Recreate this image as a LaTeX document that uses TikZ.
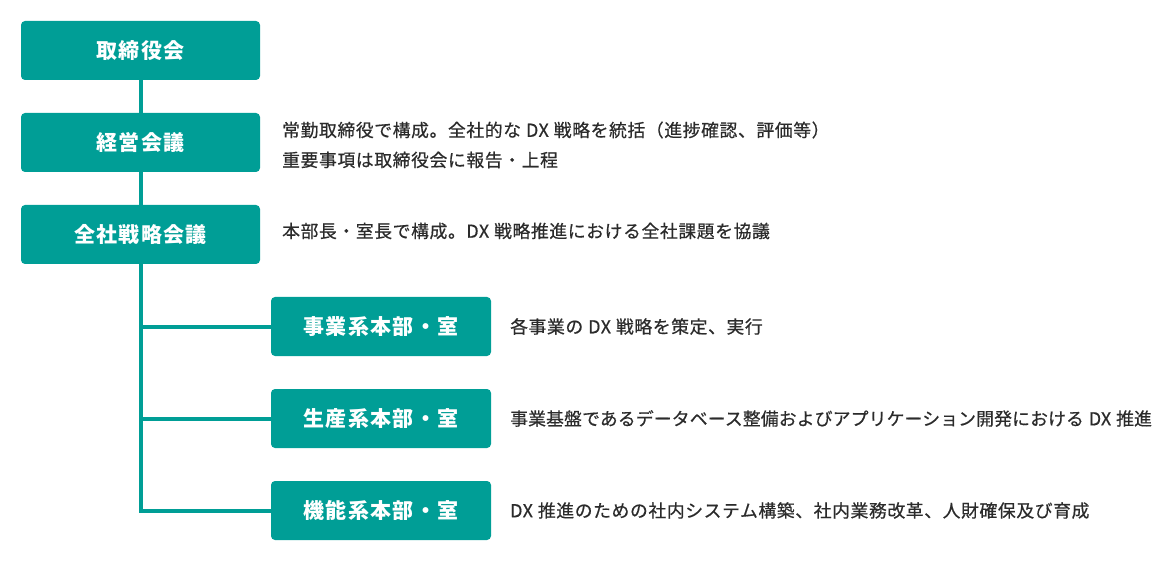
\documentclass[tikz,border=0pt]{standalone}
\usepackage{fontspec}
\setmainfont{Noto Sans CJK JP}
\newfontfamily\boxfont{Noto Sans CJK JP}[LetterSpace=6]
\newfontfamily\descfont{Noto Sans CJK JP}[FakeBold=0.6,LetterSpace=3.5]
\newfontfamily\descfonttight{Noto Sans CJK JP}[FakeBold=0.6,LetterSpace=1]
\newcommand\dxgap{\hspace{5pt}}
\definecolor{teal1}{HTML}{009E96}
\definecolor{txt}{HTML}{2B2B2B}
\tikzset{
  box/.style={fill=teal1, rounded corners=4pt, text=white, font=\boxfont\fontsize{21}{24}\selectfont\bfseries, inner sep=0pt, anchor=center},
  mainbox/.style={box, minimum width=239pt, minimum height=59pt},
  subbox/.style={box, minimum width=220pt, minimum height=59pt},
  desc/.style={text=txt, font=\descfont\fontsize{17.8}{20}\selectfont, anchor=west, inner sep=0pt},
  desctight/.style={desc, font=\descfonttight\fontsize{17.8}{20}\selectfont},
  conn/.style={draw=teal1, line width=4pt}
}
\begin{document}
\begin{tikzpicture}[x=1pt,y=-1pt]
\useasboundingbox (0,0) rectangle (1160,580);
\node[mainbox] (b1) at (140.5,50.5) {取締役会};
\node[mainbox] (b2) at (140.5,142.5) {経営会議};
\node[mainbox] (b3) at (140.5,234.5) {全社戦略会議};
\node[subbox] (s1) at (381,326.5) {事業系本部・室};
\node[subbox] (s2) at (381,418.5) {生産系本部・室};
\node[subbox] (s3) at (381,510.5) {機能系本部・室};
\coordinate (c1) at (141,326.5);
\coordinate (c2) at (141,418.5);
\coordinate (c3) at (141,510.5);
\draw[conn] (b1.south -| c1) -- (b2.north -| c1);
\draw[conn] (b2.south -| c1) -- (b3.north -| c1);
\draw[conn] (b3.south -| c1) -- ([yshift=2pt]c3) ;
\draw[conn] ([xshift=-2pt]c3) -- (s3.west);
\draw[conn] (c1) -- (s1.west);
\draw[conn] (c2) -- (s2.west);
\node[desc] (d2a) at (282,130) {常勤取締役で構成。全社的な\dxgap DX\dxgap 戦略を統括（進捗確認、評価等）};
\node[desc] (d2b) at (282,160) {重要事項は取締役会に報告・上程};
\node[desc] (d3) at (282,231) {本部長・室長で構成。DX\dxgap 戦略推進における全社課題を協議};
\node[desc] (e1) at (510,326.5) {各事業の\dxgap DX\dxgap 戦略を策定、実行};
\node[desctight] (e2) at (510,418.5) {事業基盤であるデータベース整備およびアプリケーション開発における\dxgap DX\dxgap 推進};
\node[desc] (e3) at (510,510.5) {DX\dxgap 推進のための社内システム構築、社内業務改革、人財確保及び育成};
\end{tikzpicture}
\end{document}
